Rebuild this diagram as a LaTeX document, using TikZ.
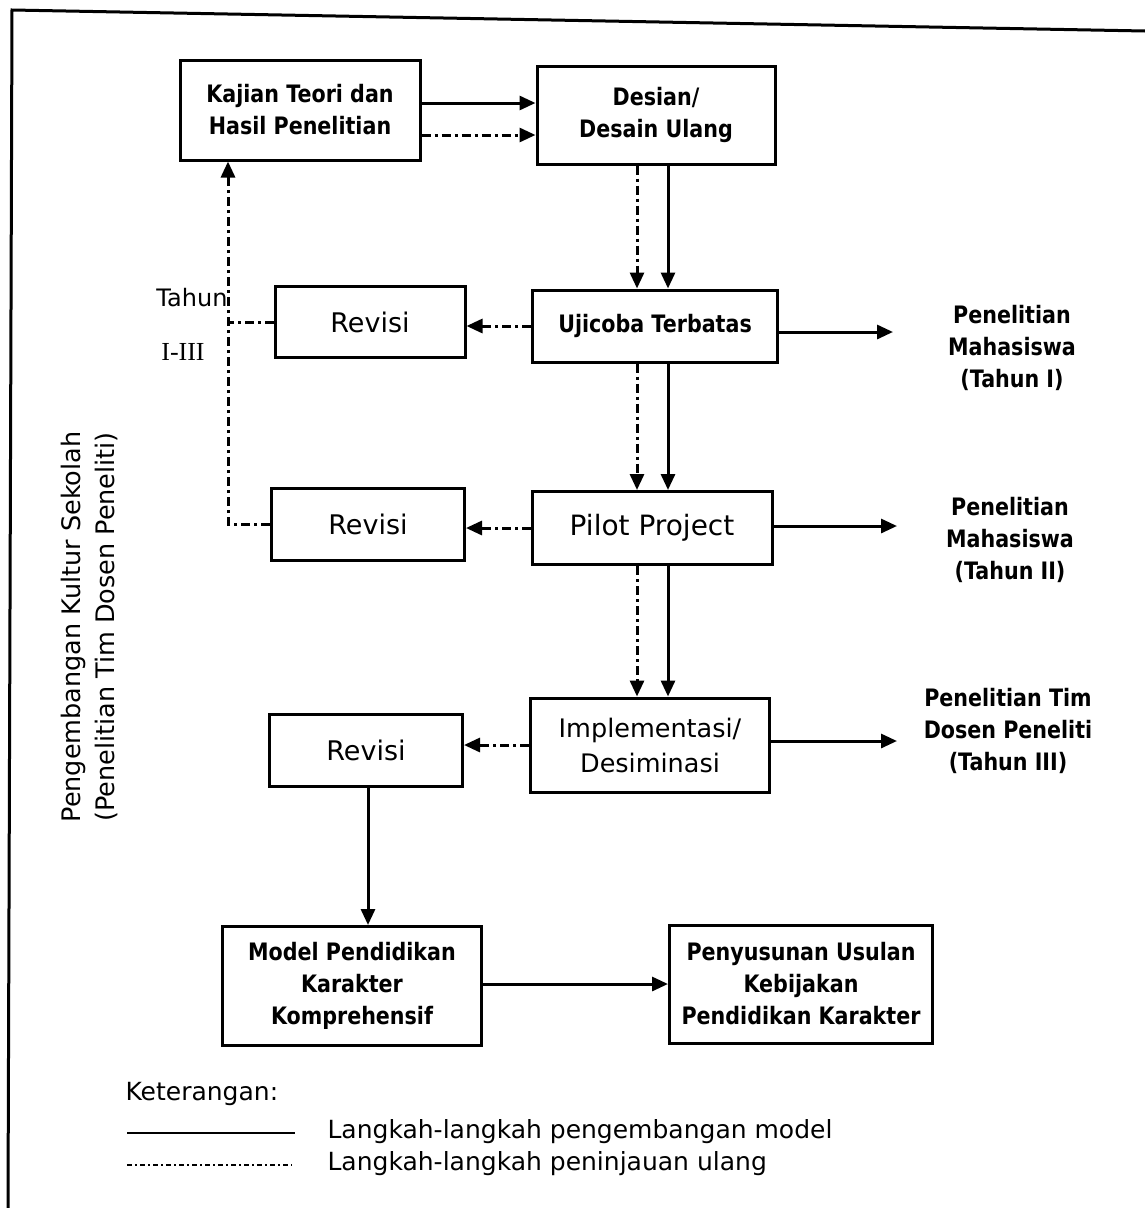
\documentclass[tikz,border=0pt]{standalone}
\usepackage{fontspec}
\setmainfont{DejaVu Sans}
\newfontfamily\bfam{DejaVu Sans}[FakeStretch=0.86]
\newfontfamily\serf{Liberation Serif}
\usetikzlibrary{arrows.meta}
\begin{document}
\begin{tikzpicture}[x=1pt,y=-1pt,
  box/.style={draw,line width=3pt,inner sep=0pt,align=center},
  bt/.style={font=\bfam\bfseries\fontsize{24}{32}\selectfont},
  rt/.style={font=\fontsize{25.5}{35}\selectfont},
  sl/.style={line width=3pt,-{Triangle[length=16pt,width=14pt]}},
  dd/.style={line width=3pt,dash pattern=on 9pt off 4pt on 3pt off 4pt,-{Triangle[length=16pt,width=14pt]}},
  ddn/.style={line width=3pt,dash pattern=on 9pt off 4pt on 3pt off 4pt},
  lab/.style={align=center,font=\bfam\bfseries\fontsize{24}{32}\selectfont}]
\useasboundingbox (0,0) rectangle (1145,1208);
% frame
\coordinate (f1) at (12,10);
\coordinate (f2) at (1145,31);
\coordinate (f3) at (8,1208);
\draw[line width=3pt] (f2) -- (f1) -- (f3);
% boxes
\node[box,bt,minimum width=240,minimum height=100] (kaj) at (300,110) {Kajian Teori dan\\Hasil Penelitian};
\node[box,bt,minimum width=238,minimum height=98] (des) at (656,115) {Desian/\\Desain Ulang};
\node[box,bt,minimum width=245,minimum height=72] (uji) at (655,326) {Ujicoba Terbatas};
\node[box,font=\fontsize{27}{32}\selectfont,minimum width=190,minimum height=71] (rev1) at (370,322) {Revisi};
\node[box,font=\fontsize{27}{32}\selectfont,minimum width=193,minimum height=72] (rev2) at (368,524) {Revisi};
\node[box,font=\fontsize{28}{32}\selectfont,minimum width=240,minimum height=73] (pil) at (652,528) {Pilot Project};
\node[box,rt,minimum width=239,minimum height=94] (imp) at (650,745) {Implementasi/\\Desiminasi};
\node[box,font=\fontsize{27}{32}\selectfont,minimum width=193,minimum height=72] (rev3) at (366,750) {Revisi};
\node[box,bt,minimum width=259,minimum height=119] (mod) at (352,986) {Model Pendidikan\\Karakter\\Komprehensif};
\node[box,bt,minimum width=263,minimum height=118] (pen) at (801,984) {Penyusunan Usulan\\Kebijakan\\Pendidikan Karakter};
% right labels
\node[lab] (lab1) at (1012,348) {Penelitian\\Mahasiswa\\(Tahun I)};
\node[lab] (lab2) at (1010,540) {Penelitian\\Mahasiswa\\(Tahun II)};
\node[lab] (lab3) at (1008,731) {Penelitian Tim\\Dosen Peneliti\\(Tahun III)};
% side labels
\node[font=\fontsize{24}{28}\selectfont] (tah) at (192,298) {Tahun};
\node[font=\serf\fontsize{26}{28}\selectfont] (tah2) at (183,352) {I-III};
\node[rotate=90,font=\fontsize{25.5}{28}\selectfont] (side1) at (73,627) {Pengembangan Kultur Sekolah};
\node[rotate=90,font=\fontsize{25.5}{28}\selectfont] (side2) at (106,627) {(Penelitian Tim Dosen Peneliti)};
% helper coordinates
\coordinate (ya) at (0,103);
\coordinate (yb) at (0,135);
\coordinate (cd) at (637,0);
\coordinate (cs) at (668,0);
\coordinate (vx) at (228,0);
\coordinate (r3x) at (368,0);
% top arrows
\draw[sl] (kaj.east |- ya) -- (des.west |- ya);
\draw[dd] (kaj.east |- yb) -- (des.west |- yb);
% vertical pairs
\draw[dd] (des.south -| cd) -- (uji.north -| cd);
\draw[sl] (des.south -| cs) -- (uji.north -| cs);
\draw[dd] (uji.south -| cd) -- (pil.north -| cd);
\draw[sl] (uji.south -| cs) -- (pil.north -| cs);
\draw[dd] (pil.south -| cd) -- (imp.north -| cd);
\draw[sl] (pil.south -| cs) -- (imp.north -| cs);
% left dash-dot arrows
\draw[dd] (uji.west) -- (rev1.east |- uji.west);
\draw[dd] (pil.west) -- (rev2.east |- pil.west);
\draw[dd] (imp.west) -- (rev3.east |- imp.west);
% loop back to Kajian
\draw[dd] (rev2.west) -- (rev2.west -| vx) -- (kaj.south -| vx);
\draw[ddn] (rev1.west) -- (rev1.west -| vx);
% right arrows
\coordinate (e1) at (893,332);
\coordinate (e2) at (897,526);
\coordinate (e3) at (897,741);
\draw[sl] (uji.east |- e1) -- (e1);
\draw[sl] (pil.east |- e2) -- (e2);
\draw[sl] (imp.east |- e3) -- (e3);
% bottom
\draw[sl] (rev3.south -| r3x) -- (mod.north -| r3x);
\draw[sl] (mod.east |- pen.west) -- (pen.west);
% legend
\node[anchor=west,font=\fontsize{25}{30}\selectfont] (ket) at (122,1094) {Keterangan:};
\coordinate (l1a) at (127,1133);
\coordinate (l1b) at (295,1133);
\coordinate (l2a) at (127,1165);
\coordinate (l2b) at (292,1165);
\draw[line width=2.2pt] (l1a) -- (l1b);
\draw[line width=2.2pt,dash pattern=on 5pt off 3pt on 2pt off 3pt] (l2a) -- (l2b);
\node[anchor=west,font=\fontsize{25}{30}\selectfont] (leg1) at (324,1132) {Langkah-langkah pengembangan model};
\node[anchor=west,font=\fontsize{25}{30}\selectfont] (leg2) at (324,1164) {Langkah-langkah peninjauan ulang};
\end{tikzpicture}
\end{document}
